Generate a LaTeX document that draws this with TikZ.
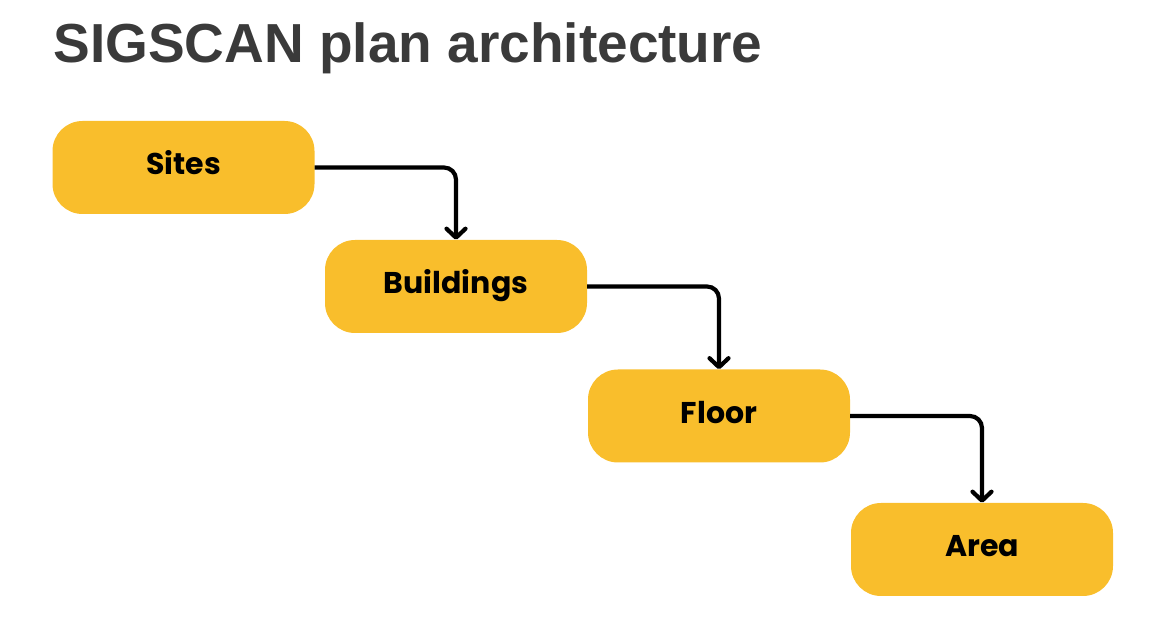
\documentclass[tikz,border=0pt]{standalone}
\usepackage{fontspec}
\setmainfont{Liberation Sans}
\newfontfamily\boxfont{Poppins}
\usetikzlibrary{arrows.meta}
\definecolor{Title}{HTML}{3A3A3A}
\definecolor{Mustard}{HTML}{F9BE2C}

\tikzset{
  level/.style={fill=Mustard,rounded corners=30pt,minimum width=262pt,
    minimum height=93pt,inner sep=0pt,font=\boxfont\bfseries\fontsize{30}{32}\selectfont,
    text height=21pt,text depth=6pt},
  flow/.style={line width=4.2pt,rounded corners=12pt,
    -{Straight Barb[length=9pt,width=19pt,round]}}
}

\begin{document}
\begin{tikzpicture}[x=1pt,y=1pt]
        \useasboundingbox (0,0) rectangle (1149,621);
        \node[anchor=base west,text=Title,font=\bfseries\fontsize{55}{58}\selectfont]
          (title) at (50,558) {SIGSCAN plan architecture};

        \node[level] (sites) at (183.5,453.5) {Sites};
        \node[level] (bldg) at (456,334.5) {Buildings};
        \node[level] (floor) at (719,205) {Floor};
        \node[level] (area) at (982,71.5) {Area};

        \draw[flow] (sites.east) -| (bldg.north);
        \draw[flow] (bldg.east) -| (floor.north);
        \draw[flow] (floor.east) -| (area.north);
      \end{tikzpicture}
\end{document}
